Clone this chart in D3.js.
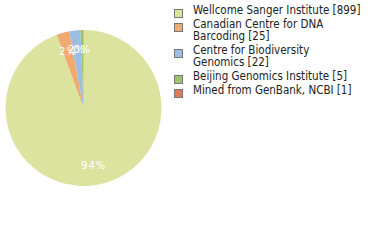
<!DOCTYPE html>
<html>
<head>
<meta charset="utf-8">
<script src="https://cdn.jsdelivr.net/npm/d3@7"></script>
<style>
  body { margin: 0; background: #fff; }
  svg { display: block; }
</style>
</head>
<body>
<div id="chart"></div>
<script>
// data
const labels = [
    ['Wellcome Sanger Institute [899]'],
    ['Canadian Centre for DNA', 'Barcoding [25]'],
    ['Centre for Biodiversity', 'Genomics [22]'],
    ['Beijing Genomics Institute [5]'],
    ['Mined from GenBank, NCBI [1]']
];
const counts = [899, 25, 22, 5, 1];
const colors = ['#dce39f', '#f0aa70', '#9dbde1', '#9bc46f', '#e07a5c'];

const width = 380, height = 240;
const cx = 83.5, cy = 108, radius = 78;

const svg = d3.select('#chart').append('svg')
    .attr('width', width)
    .attr('height', height);

const total = d3.sum(counts);
const pie = d3.pie().sort(null).value(d => d)(counts);
const arc = d3.arc().innerRadius(0).outerRadius(radius);
const labelArc = d3.arc().innerRadius(radius * 0.75).outerRadius(radius * 0.75);

const g = svg.append('g').attr('transform', `translate(${cx},${cy})`);

g.selectAll('path')
    .data(pie)
    .enter().append('path')
    .attr('d', arc)
    .attr('fill', (d, i) => colors[i]);

// percentage labels, truncated like the reference (2.6% shows as 2%)
g.selectAll('text')
    .data(pie.filter((d, i) => i < 4))
    .enter().append('text')
    .attr('transform', d => `translate(${labelArc.centroid(d)})`)
    .attr('text-anchor', 'middle')
    .attr('dy', '0.35em')
    .attr('fill', '#fff')
    .attr('font-family', 'DejaVu Sans')
    .attr('font-size', 10)
    .attr('letter-spacing', 1)
    .text(d => Math.floor(d.value / total * 100) + '%');

// legend
const legend = svg.append('g')
    .attr('font-family', 'DejaVu Sans Condensed')
    .attr('font-size', 11.5)
    .attr('fill', '#222');

let y = 14;
labels.forEach((lines, i) => {
    legend.append('rect')
        .attr('x', 174.5)
        .attr('y', y - 4.5)
        .attr('width', 8)
        .attr('height', 8)
        .attr('fill', colors[i])
        .attr('stroke', '#777')
        .attr('stroke-width', 1);
    lines.forEach((line, j) => {
        legend.append('text')
            .attr('x', 193)
            .attr('y', y + j * 12)
            .text(line);
    });
    y += lines.length * 12 + 2;
});
</script>
</body>
</html>
